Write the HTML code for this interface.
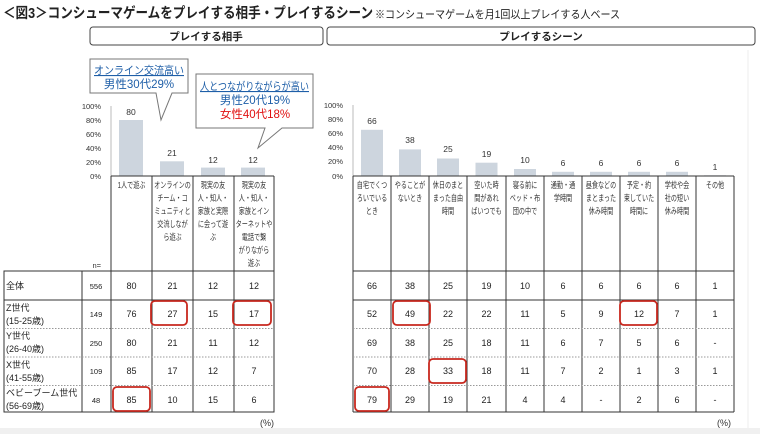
<!DOCTYPE html>
<html><head><meta charset="utf-8"><style>
html,body{margin:0;padding:0;background:#fff}
svg{display:block;font-family:"Liberation Sans","Noto Sans CJK JP",sans-serif}
</style></head><body>
<svg width="760" height="434" viewBox="0 0 760 434" xmlns="http://www.w3.org/2000/svg">
<rect x="0" y="0" width="760" height="434" fill="#fff"/>
<rect x="0" y="428" width="760" height="6" fill="#f0f0f0"/>
<line x1="748" y1="50" x2="748" y2="428" stroke="#eee"/>
<text x="3" y="18" font-size="14.5" font-weight="bold" fill="#222" textLength="370" lengthAdjust="spacingAndGlyphs">＜図3＞コンシューマゲームをプレイする相手・プレイするシーン</text>
<text x="375" y="18" font-size="11" fill="#222" textLength="245" lengthAdjust="spacingAndGlyphs">※コンシューマゲームを月1回以上プレイする人ベース</text>
<rect x="90" y="27" width="233" height="18" rx="3" fill="#fff" stroke="#444"/>
<text x="206" y="40" font-size="10.5" font-weight="bold" text-anchor="middle" fill="#222">プレイする相手</text>
<rect x="327" y="27" width="428" height="18" rx="3" fill="#fff" stroke="#444"/>
<text x="541" y="40" font-size="10.5" font-weight="bold" text-anchor="middle" fill="#222">プレイするシーン</text>

<path d="M90,59 H188 V93 H172 L161,120 L156,93 H90 Z" fill="#fff" stroke="#777"/>
<text x="94" y="74" font-size="11" fill="#1f5fa8" text-decoration="underline" textLength="90" lengthAdjust="spacingAndGlyphs">オンライン交流高い</text>
<text x="139" y="88" font-size="11.5" text-anchor="middle" fill="#1f5fa8">男性30代29%</text>
<path d="M196,74 H313 V128 H282 L258,148 L265,128 H196 Z" fill="#fff" stroke="#777"/>
<text x="200" y="90" font-size="11" fill="#1f5fa8" text-decoration="underline" textLength="109" lengthAdjust="spacingAndGlyphs">人とつながりながらが高い</text>
<text x="255" y="104" font-size="11.5" text-anchor="middle" fill="#1f5fa8">男性20代19%</text>
<text x="255" y="118" font-size="11.5" text-anchor="middle" fill="#e01010">女性40代18%</text>

<g font-size="7.5" fill="#333" text-anchor="end">
<text x="101" y="109">100%</text><text x="101" y="123">80%</text><text x="101" y="137">60%</text>
<text x="101" y="151">40%</text><text x="101" y="165">20%</text><text x="101" y="179">0%</text>
<text x="101" y="268">n=</text>
</g>
<line x1="111" y1="106" x2="111" y2="176" stroke="#bbb"/>
<g fill="#cdd5de">
<rect x="119" y="120" width="24" height="56"/>
<rect x="160" y="161.3" width="24" height="14.7"/>
<rect x="201" y="167.6" width="24" height="8.4"/>
<rect x="241" y="167.6" width="24" height="8.4"/>
</g>
<g font-size="8.5" fill="#333" text-anchor="middle">
<text x="131" y="115">80</text><text x="172" y="156">21</text><text x="213" y="163">12</text><text x="253" y="163">12</text>
</g>

<g font-size="7.5" fill="#333" text-anchor="end">
<text x="343" y="108">100%</text><text x="343" y="122">80%</text><text x="343" y="136">60%</text>
<text x="343" y="150">40%</text><text x="343" y="164">20%</text><text x="343" y="179">0%</text>
</g>
<line x1="353" y1="105" x2="353" y2="176" stroke="#bbb"/>
<g fill="#cdd5de">
<rect x="361" y="129.8" width="22" height="46.2"/>
<rect x="399" y="149.4" width="22" height="26.6"/>
<rect x="437" y="158.5" width="22" height="17.5"/>
<rect x="475.5" y="162.7" width="22" height="13.3"/>
<rect x="514" y="169" width="22" height="7"/>
<rect x="552" y="171.8" width="22" height="4.2"/>
<rect x="590" y="171.8" width="22" height="4.2"/>
<rect x="628" y="171.8" width="22" height="4.2"/>
<rect x="666" y="171.8" width="22" height="4.2"/>
<rect x="704" y="175.3" width="22" height="0.7"/>
</g>
<g font-size="8.5" fill="#333" text-anchor="middle">
<text x="372" y="124">66</text><text x="410" y="143">38</text><text x="448" y="152">25</text><text x="486.5" y="157">19</text>
<text x="525" y="163">10</text><text x="563" y="166">6</text><text x="601" y="166">6</text><text x="639" y="166">6</text>
<text x="677" y="166">6</text><text x="715" y="170">1</text>
</g>

<g stroke="#333" stroke-width="1">
<line x1="111" y1="176" x2="111" y2="412"/><line x1="152" y1="176" x2="152" y2="412"/>
<line x1="193" y1="176" x2="193" y2="412"/><line x1="234" y1="176" x2="234" y2="412"/>
<line x1="274" y1="176" x2="274" y2="412"/>
<line x1="111" y1="176" x2="274" y2="176"/>
<line x1="353" y1="176" x2="353" y2="412"/><line x1="391" y1="176" x2="391" y2="412"/>
<line x1="429" y1="176" x2="429" y2="412"/><line x1="467" y1="176" x2="467" y2="412"/>
<line x1="506" y1="176" x2="506" y2="412"/><line x1="544" y1="176" x2="544" y2="412"/>
<line x1="582" y1="176" x2="582" y2="412"/><line x1="620" y1="176" x2="620" y2="412"/>
<line x1="658" y1="176" x2="658" y2="412"/><line x1="696" y1="176" x2="696" y2="412"/>
<line x1="734" y1="176" x2="734" y2="412"/>
<line x1="353" y1="176" x2="734" y2="176"/>
</g>
<g font-size="8.5" fill="#333" text-anchor="middle">
<g transform="translate(131.5,0) scale(0.72,1)"><text x="0" y="188">1人で遊ぶ</text></g>
<g transform="translate(172.5,0) scale(0.72,1)"><text x="0" y="188">オンラインの</text><text x="0" y="201">チーム・コ</text><text x="0" y="214">ミュニティと</text><text x="0" y="227">交流しなが</text><text x="0" y="240">ら遊ぶ</text></g>
<g transform="translate(213,0) scale(0.72,1)"><text x="0" y="188">現実の友</text><text x="0" y="201">人・知人・</text><text x="0" y="214">家族と実際</text><text x="0" y="227">に会って遊</text><text x="0" y="240">ぶ</text></g>
<g transform="translate(254,0) scale(0.72,1)"><text x="0" y="188">現実の友</text><text x="0" y="201">人・知人・</text><text x="0" y="214">家族とイン</text><text x="0" y="227">ターネットや</text><text x="0" y="240">電話で繋</text><text x="0" y="253">がりながら</text><text x="0" y="266">遊ぶ</text></g>
<g transform="translate(372,0) scale(0.72,1)"><text x="0" y="188">自宅でくつ</text><text x="0" y="201">ろいでいる</text><text x="0" y="214">とき</text></g>
<g transform="translate(410,0) scale(0.72,1)"><text x="0" y="188">やることが</text><text x="0" y="201">ないとき</text></g>
<g transform="translate(448,0) scale(0.72,1)"><text x="0" y="188">休日のまと</text><text x="0" y="201">まった自由</text><text x="0" y="214">時間</text></g>
<g transform="translate(486.5,0) scale(0.72,1)"><text x="0" y="188">空いた時</text><text x="0" y="201">間があれ</text><text x="0" y="214">ばいつでも</text></g>
<g transform="translate(525,0) scale(0.72,1)"><text x="0" y="188">寝る前に</text><text x="0" y="201">ベッド・布</text><text x="0" y="214">団の中で</text></g>
<g transform="translate(563,0) scale(0.72,1)"><text x="0" y="188">通勤・通</text><text x="0" y="201">学時間</text></g>
<g transform="translate(601,0) scale(0.72,1)"><text x="0" y="188">昼食などの</text><text x="0" y="201">まとまった</text><text x="0" y="214">休み時間</text></g>
<g transform="translate(639,0) scale(0.72,1)"><text x="0" y="188">予定・約</text><text x="0" y="201">束していた</text><text x="0" y="214">時間に</text></g>
<g transform="translate(677,0) scale(0.72,1)"><text x="0" y="188">学校や会</text><text x="0" y="201">社の短い</text><text x="0" y="214">休み時間</text></g>
<g transform="translate(715,0) scale(0.72,1)"><text x="0" y="188">その他</text></g>
</g>

<g stroke="#333" fill="none">
<rect x="4" y="271" width="270" height="141"/>
<line x1="82" y1="271" x2="82" y2="412"/>
<line x1="4" y1="300" x2="274" y2="300"/>
<line x1="353" y1="271" x2="734" y2="271"/>
<line x1="353" y1="300" x2="734" y2="300"/>
<line x1="353" y1="412" x2="734" y2="412"/>
</g>
<g stroke="#999" stroke-dasharray="1.5,1.5">
<line x1="4" y1="328.5" x2="274" y2="328.5"/><line x1="4" y1="357" x2="274" y2="357"/><line x1="4" y1="385.5" x2="274" y2="385.5"/>
<line x1="353" y1="328.5" x2="734" y2="328.5"/><line x1="353" y1="357" x2="734" y2="357"/><line x1="353" y1="385.5" x2="734" y2="385.5"/>
</g>
<g font-size="9" fill="#222">
<text x="6" y="289">全体</text>
<text x="6" y="311">Z世代</text><text x="6" y="324">(15-25歳)</text>
<text x="6" y="339">Y世代</text><text x="6" y="352"> (26-40歳)</text>
<text x="6" y="368">X世代</text><text x="6" y="381"> (41-55歳)</text>
<text x="6" y="396">ベビーブーム世代</text><text x="6" y="409"> (56-69歳)</text>
</g>
<g font-size="7.5" fill="#222" text-anchor="middle">
<text x="96" y="289">556</text><text x="96" y="317">149</text><text x="96" y="346">250</text><text x="96" y="374">109</text><text x="96" y="403">48</text>
</g>
<g font-size="9" fill="#222" text-anchor="middle">
<text x="131.5" y="289">80</text><text x="172.5" y="289">21</text><text x="213" y="289">12</text><text x="254" y="289">12</text>
<text x="131.5" y="317">76</text><text x="172.5" y="317">27</text><text x="213" y="317">15</text><text x="254" y="317">17</text>
<text x="131.5" y="346">80</text><text x="172.5" y="346">21</text><text x="213" y="346">11</text><text x="254" y="346">12</text>
<text x="131.5" y="374">85</text><text x="172.5" y="374">17</text><text x="213" y="374">12</text><text x="254" y="374">7</text>
<text x="131.5" y="403">85</text><text x="172.5" y="403">10</text><text x="213" y="403">15</text><text x="254" y="403">6</text>

<text x="372" y="289">66</text><text x="410" y="289">38</text><text x="448" y="289">25</text><text x="486.5" y="289">19</text><text x="525" y="289">10</text><text x="563" y="289">6</text><text x="601" y="289">6</text><text x="639" y="289">6</text><text x="677" y="289">6</text><text x="715" y="289">1</text>
<text x="372" y="317">52</text><text x="410" y="317">49</text><text x="448" y="317">22</text><text x="486.5" y="317">22</text><text x="525" y="317">11</text><text x="563" y="317">5</text><text x="601" y="317">9</text><text x="639" y="317">12</text><text x="677" y="317">7</text><text x="715" y="317">1</text>
<text x="372" y="346">69</text><text x="410" y="346">38</text><text x="448" y="346">25</text><text x="486.5" y="346">18</text><text x="525" y="346">11</text><text x="563" y="346">6</text><text x="601" y="346">7</text><text x="639" y="346">5</text><text x="677" y="346">6</text><text x="715" y="346">-</text>
<text x="372" y="374">70</text><text x="410" y="374">28</text><text x="448" y="374">33</text><text x="486.5" y="374">18</text><text x="525" y="374">11</text><text x="563" y="374">7</text><text x="601" y="374">2</text><text x="639" y="374">1</text><text x="677" y="374">3</text><text x="715" y="374">1</text>
<text x="372" y="403">79</text><text x="410" y="403">29</text><text x="448" y="403">19</text><text x="486.5" y="403">21</text><text x="525" y="403">4</text><text x="563" y="403">4</text><text x="601" y="403">-</text><text x="639" y="403">2</text><text x="677" y="403">6</text><text x="715" y="403">-</text>
</g>
<g fill="none" stroke="#c8281e" stroke-width="1.8">
<rect x="151" y="301" width="36" height="24" rx="4"/>
<rect x="233" y="301" width="38" height="24" rx="4"/>
<rect x="113" y="387" width="37" height="24" rx="4"/>
<rect x="393" y="301" width="37" height="24" rx="4"/>
<rect x="620" y="301" width="37" height="24" rx="4"/>
<rect x="429" y="359" width="37" height="24" rx="4"/>
<rect x="355" y="387" width="34" height="24" rx="4"/>
</g>
<text x="274" y="426" font-size="9" fill="#333" text-anchor="end">(%)</text>
<text x="731" y="426" font-size="9" fill="#333" text-anchor="end">(%)</text>
</svg>
</body></html>
